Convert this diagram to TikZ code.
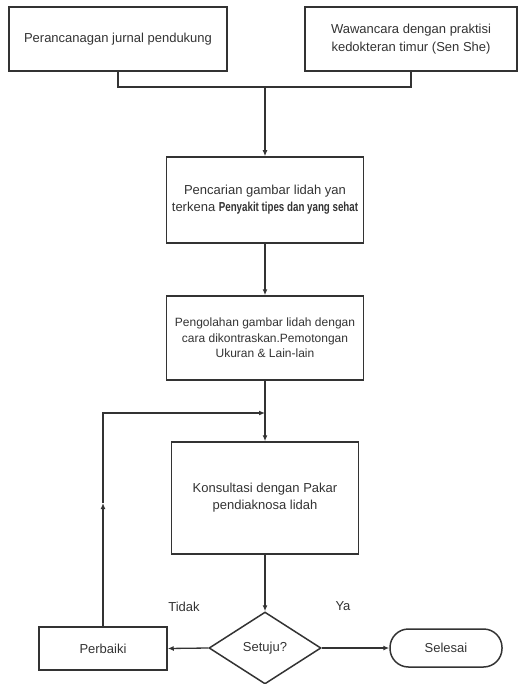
\documentclass[tikz,border=0pt]{standalone}
\usepackage{fontspec}
\setmainfont{Liberation Sans}
\newfontfamily\narrowfont[FakeStretch=0.75]{Liberation Sans}
\usetikzlibrary{shapes.geometric,arrows.meta}
\definecolor{ink}{HTML}{333333}
\tikzset{
  box/.style={draw=ink,line width=1.5pt,rectangle,align=center,text=ink,inner sep=2pt,
    font=\fontsize{13}{17}\selectfont},
  lbl/.style={text=ink,font=\fontsize{13}{16}\selectfont,inner sep=0pt},
  conn/.style={draw=ink,line width=1.3pt},
  arr/.style={conn,-{Latex[length=6pt,width=5pt]}},
}
\begin{document}
\begin{tikzpicture}[x=1pt,y=-1pt]
\useasboundingbox (0,0) rectangle (519,684);
\node[box,minimum width=218,minimum height=64] (b1) at (118,39) {Perancanagan jurnal pendukung};
\node[box,minimum width=212,minimum height=64,font=\fontsize{13}{18}\selectfont] (b2) at (411,39) {Wawancara dengan praktisi\\kedokteran timur (Sen She)};
\node[box,minimum width=197,minimum height=86] (b3) at (265,200) {Pencarian gambar lidah yan\\terkena {\narrowfont\bfseries Penyakit tipes dan yang sehat}};
\node[box,minimum width=197,minimum height=84,font=\fontsize{12}{15.5}\selectfont] (b4) at (265,338) {Pengolahan gambar lidah dengan\\cara dikontraskan.Pemotongan\\Ukuran \& Lain-lain};
\node[box,minimum width=187,minimum height=112] (b5) at (265,498) {Konsultasi dengan Pakar\\pendiaknosa lidah};
\node[box,diamond,minimum width=112,minimum height=72,aspect=1.55,inner sep=0pt] (d) at (265,648) {Setuju?};
\node[box,minimum width=128,minimum height=43] (p) at (103,648.5) {Perbaiki};
\node[box,minimum width=112,minimum height=38,rounded corners=18.5pt] (s) at (446,648) {Selesai};
\node[lbl] (tidak) at (184,607) {Tidak};
\node[lbl] (ya) at (343,606) {Ya};
\coordinate (j) at (265,87);
\coordinate (m) at (265,413);
\coordinate (lm) at (103,503);
\draw[conn] (b1.south) |- (j);
\draw[conn] (b2.south) |- (j);
\draw[arr,line width=1.8pt] (j) -- (b3.north);
\draw[arr] (b3.south) -- (b4.north);
\draw[arr] (b4.south) -- (b5.north);
\draw[arr] (b5.south) -- (d.north);
\draw[arr] (d.west) -- (p.east);
\draw[arr] (d.east) -- (s.west);
\draw[arr] (p.north) -- (lm);
\draw[arr] (lm) |- (m);
\end{tikzpicture}
\end{document}
